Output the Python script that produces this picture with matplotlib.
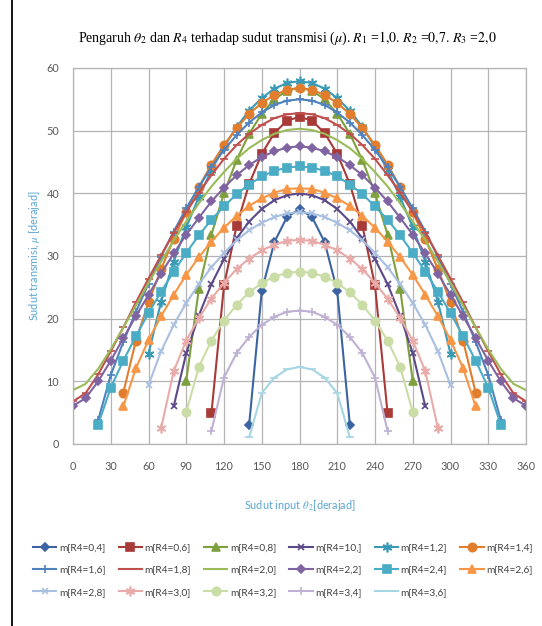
import matplotlib
matplotlib.use("Agg")
import matplotlib.pyplot as plt
from matplotlib.lines import Line2D
import numpy as np

plt.rcParams["font.family"] = ["Lato", "DejaVu Sans"]
plt.rcParams["mathtext.fontset"] = "stix"

# input crank angle theta2 [deg]
theta = list(range(0, 361, 10))
xticks = list(range(0, 361, 30))
yticks = list(range(0, 61, 10))

# transmission angle mu [deg] for each rocker length R4 (None = no solution)
mu_04 = [None]*14 + [3.1, 24.4, 32.2, 36.2, 37.5, 36.2, 32.2, 24.4, 3.1] + [None]*14
mu_06 = [None]*11 + [4.9, 25.3, 34.8, 41.5, 46.3, 49.6, 51.6, 52.2, 51.6, 49.6, 46.3,
                     41.5, 34.8, 25.3, 4.9] + [None]*11
mu_08 = [None]*9 + [10.1, 24.7, 33.4, 40.0, 45.3, 49.5, 52.7, 55.0, 56.4, 56.9, 56.4,
                    55.0, 52.7, 49.5, 45.3, 40.0, 33.4, 24.7, 10.1] + [None]*9
mu_10 = [None]*8 + [6.0, 14.5, 20.5, 25.5, 29.5, 32.8, 35.5, 37.5, 38.9, 39.7, 40.0,
                    39.7, 38.9, 37.5, 35.5, 32.8, 29.5, 25.5, 20.5, 14.5, 6.0] + [None]*8
mu_12 = [None]*6 + [14.4, 22.7, 29.1, 34.6, 39.4, 43.7, 47.4, 50.6, 53.2, 55.2, 56.7,
                    57.6, 57.9, 57.6, 56.7, 55.2, 53.2, 50.6, 47.4, 43.7, 39.4, 34.6,
                    29.1, 22.7, 14.4] + [None]*6
mu_14 = [None]*4 + [8.2, 16.5, 22.6, 27.9, 32.7, 37.0, 41.0, 44.6, 47.7, 50.4, 52.7,
                    54.4, 55.7, 56.5, 56.8, 56.5, 55.7, 54.4, 52.7, 50.4, 47.7, 44.6,
                    41.0, 37.0, 32.7, 27.9, 22.6, 16.5, 8.2] + [None]*4
mu_16 = [None]*2 + [3.8, 11.0, 16.3, 21.1, 25.6, 29.9, 33.9, 37.6, 41.0, 44.2, 46.9,
                    49.3, 51.3, 52.9, 54.1, 54.8, 55.0, 54.8, 54.1, 52.9, 51.3, 49.3,
                    46.9, 44.2, 41.0, 37.6, 33.9, 29.9, 25.6, 21.1, 16.3, 11.0, 3.8] + [None]*2
mu_18 = [6.8, 8.1, 11.1, 14.8, 18.6, 22.6, 26.4, 30.1, 33.7, 37.0, 40.1, 42.9, 45.5,
         47.7, 49.5, 50.9, 52.0, 52.6, 52.8, 52.6, 52.0, 50.9, 49.5, 47.7, 45.5, 42.9,
         40.1, 37.0, 33.7, 30.1, 26.4, 22.6, 18.6, 14.8, 11.1, 8.1, 6.8]
mu_20 = [8.6, 9.6, 12.0, 15.1, 18.6, 22.1, 25.7, 29.1, 32.5, 35.5, 38.4, 41.1, 43.4,
         45.5, 47.2, 48.5, 49.5, 50.1, 50.3, 50.1, 49.5, 48.5, 47.2, 45.5, 43.4, 41.1,
         38.4, 35.5, 32.5, 29.1, 25.7, 22.1, 18.6, 15.1, 12.0, 9.6, 8.6]
mu_22 = [6.1, 7.3, 10.0, 13.3, 16.9, 20.4, 23.8, 27.2, 30.4, 33.4, 36.1, 38.7, 40.9,
         42.9, 44.5, 45.8, 46.7, 47.3, 47.5, 47.3, 46.7, 45.8, 44.5, 42.9, 40.9, 38.7,
         36.1, 33.4, 30.4, 27.2, 23.8, 20.4, 16.9, 13.3, 10.0, 7.3, 6.1]
mu_24 = [None]*2 + [3.1, 9.0, 13.3, 17.2, 20.9, 24.3, 27.5, 30.5, 33.3, 35.8, 37.9,
                    39.9, 41.4, 42.7, 43.6, 44.1, 44.3, 44.1, 43.6, 42.7, 41.4, 39.9,
                    37.9, 35.8, 33.3, 30.5, 27.5, 24.3, 20.9, 17.2, 13.3, 9.0, 3.1] + [None]*2
mu_26 = [None]*4 + [6.0, 12.1, 16.6, 20.4, 23.8, 27.0, 29.8, 32.3, 34.5, 36.4, 38.0,
                    39.2, 40.1, 40.7, 40.8, 40.7, 40.1, 39.2, 38.0, 36.4, 34.5, 32.3,
                    29.8, 27.0, 23.8, 20.4, 16.6, 12.1, 6.0] + [None]*4
mu_28 = [None]*6 + [9.4, 14.8, 19.0, 22.5, 25.5, 28.2, 30.5, 32.5, 34.1, 35.3, 36.2,
                    36.8, 37.0, 36.8, 36.2, 35.3, 34.1, 32.5, 30.5, 28.2, 25.5, 22.5,
                    19.0, 14.8, 9.4] + [None]*6
mu_30 = [None]*7 + [2.5, 11.6, 16.5, 20.1, 23.2, 25.7, 27.9, 29.6, 30.9, 31.8, 32.4,
                    32.6, 32.4, 31.8, 30.9, 29.6, 27.9, 25.7, 23.2, 20.1, 16.5, 11.6,
                    2.5] + [None]*7
mu_32 = [None]*9 + [5.1, 12.3, 16.5, 19.7, 22.2, 24.2, 25.7, 26.7, 27.3, 27.5, 27.3,
                    26.7, 25.7, 24.2, 22.2, 19.7, 16.5, 12.3, 5.1] + [None]*9
mu_34 = [None]*11 + [2.1, 10.6, 14.5, 17.1, 19.0, 20.3, 21.1, 21.3, 21.1, 20.3, 19.0,
                     17.1, 14.5, 10.6, 2.1] + [None]*11
mu_36 = [None]*14 + [1.1, 8.1, 10.6, 11.9, 12.3, 11.9, 10.6, 8.1, 1.1] + [None]*14

series = [mu_04, mu_06, mu_08, mu_10, mu_12, mu_14, mu_16, mu_18, mu_20,
          mu_22, mu_24, mu_26, mu_28, mu_30, mu_32, mu_34, mu_36]
labels = ["m[R4=0,4]", "m[R4=0,6]", "m[R4=0,8]", "m[R4=10,]", "m[R4=1,2]",
          "m[R4=1,4]", "m[R4=1,6]", "m[R4=1,8]", "m[R4=2,0]", "m[R4=2,2]",
          "m[R4=2,4]", "m[R4=2,6]", "m[R4=2,8]", "m[R4=3,0]", "m[R4=3,2]",
          "m[R4=3,4]", "m[R4=3,6]"]

colors = ["#3C64A2", "#A83A37", "#7FA03E", "#5C4A88", "#3A9AB6", "#E07E2E",
          "#4F81BD", "#C0504D", "#9BBB59", "#8064A2", "#4BACC6", "#F79646",
          "#A9C0E0", "#E8ABA9", "#CADDA6", "#BFB1D3", "#A6D6E3"]
asterisk = (6, 2, 0)
markers = ["D", "s", "^", "x", asterisk, "o", "+", "_", "",
           "D", "s", "^", "x", asterisk, "o", "+", "_"]
msizes = [4.5, 5.5, 5.5, 5, 7, 6, 6, 6, 0, 4.5, 5.5, 5.5, 5, 7, 6, 6, 6]

W, H = 542, 626
fig = plt.figure(figsize=(W / 100, H / 100), dpi=100)
ax = fig.add_axes([73 / W, 1 - 444 / H, (526 - 73) / W, (444 - 68) / H])

handles = []
for vals, lab, c, m, s in zip(series, labels, colors, markers, msizes):
    y = np.array(vals, dtype=float)
    h, = ax.plot(theta, y, color=c, lw=1.5, marker=m, ms=s, mfc=c, mec=c,
                 mew=1.2, label=lab, solid_joinstyle="round")
    handles.append(h)

grid_c = "#B4B4B4"
ax.set_xlim(0, 360)
ax.set_ylim(0, 60)
ax.set_xticks(xticks)
ax.set_yticks(yticks)
ax.grid(True, color=grid_c, lw=0.9)
ax.set_axisbelow(True)
for sp in ax.spines.values():
    sp.set_color(grid_c)
    sp.set_linewidth(0.9)
ax.tick_params(length=0, labelsize=7.8, labelcolor="#595959")
ax.tick_params(axis="x", pad=12)
ax.tick_params(axis="y", pad=10)

label_c = "#5AA6D2"
ax.set_xlabel(r"Sudut input $\theta_{\,2}$[derajad]", color=label_c, fontsize=7.8,
              labelpad=19)
ax.set_ylabel(r"Sudut transmisi, $\mu$ [derajad]", color=label_c, fontsize=7.8,
              labelpad=3)

fig.text(78 / W, 1 - 38 / H,
         r"Pengaruh $\theta_2$ dan $R_4$ terhadap sudut transmisi ($\mu$). "
         r"$R_1$ =$\mathit{1{,}0.}\,R_2$ =$\mathit{0{,}7.}\,R_3$ =$\mathit{2{,}0}$",
         ha="left", va="center", fontsize=10, family="Liberation Serif")

order = [0, 6, 12, 1, 7, 13, 2, 8, 14, 3, 9, 15, 4, 10, 16, 5, 11]
fig.legend([handles[i] for i in order], [labels[i] for i in order],
           loc="upper left", bbox_to_anchor=(33 / W, 1 - 543 / H), ncol=6,
           frameon=False, fontsize=7.3, handlelength=2.3, handletextpad=0.25,
           columnspacing=1.3, labelspacing=1.3, borderpad=0, borderaxespad=0,
           labelcolor="#404040")

fig.add_artist(Line2D([12 / W, 12 / W], [0, 1], color="black", lw=1.3,
                      transform=fig.transFigure))

fig.savefig("out.png", dpi=100, facecolor="white")
